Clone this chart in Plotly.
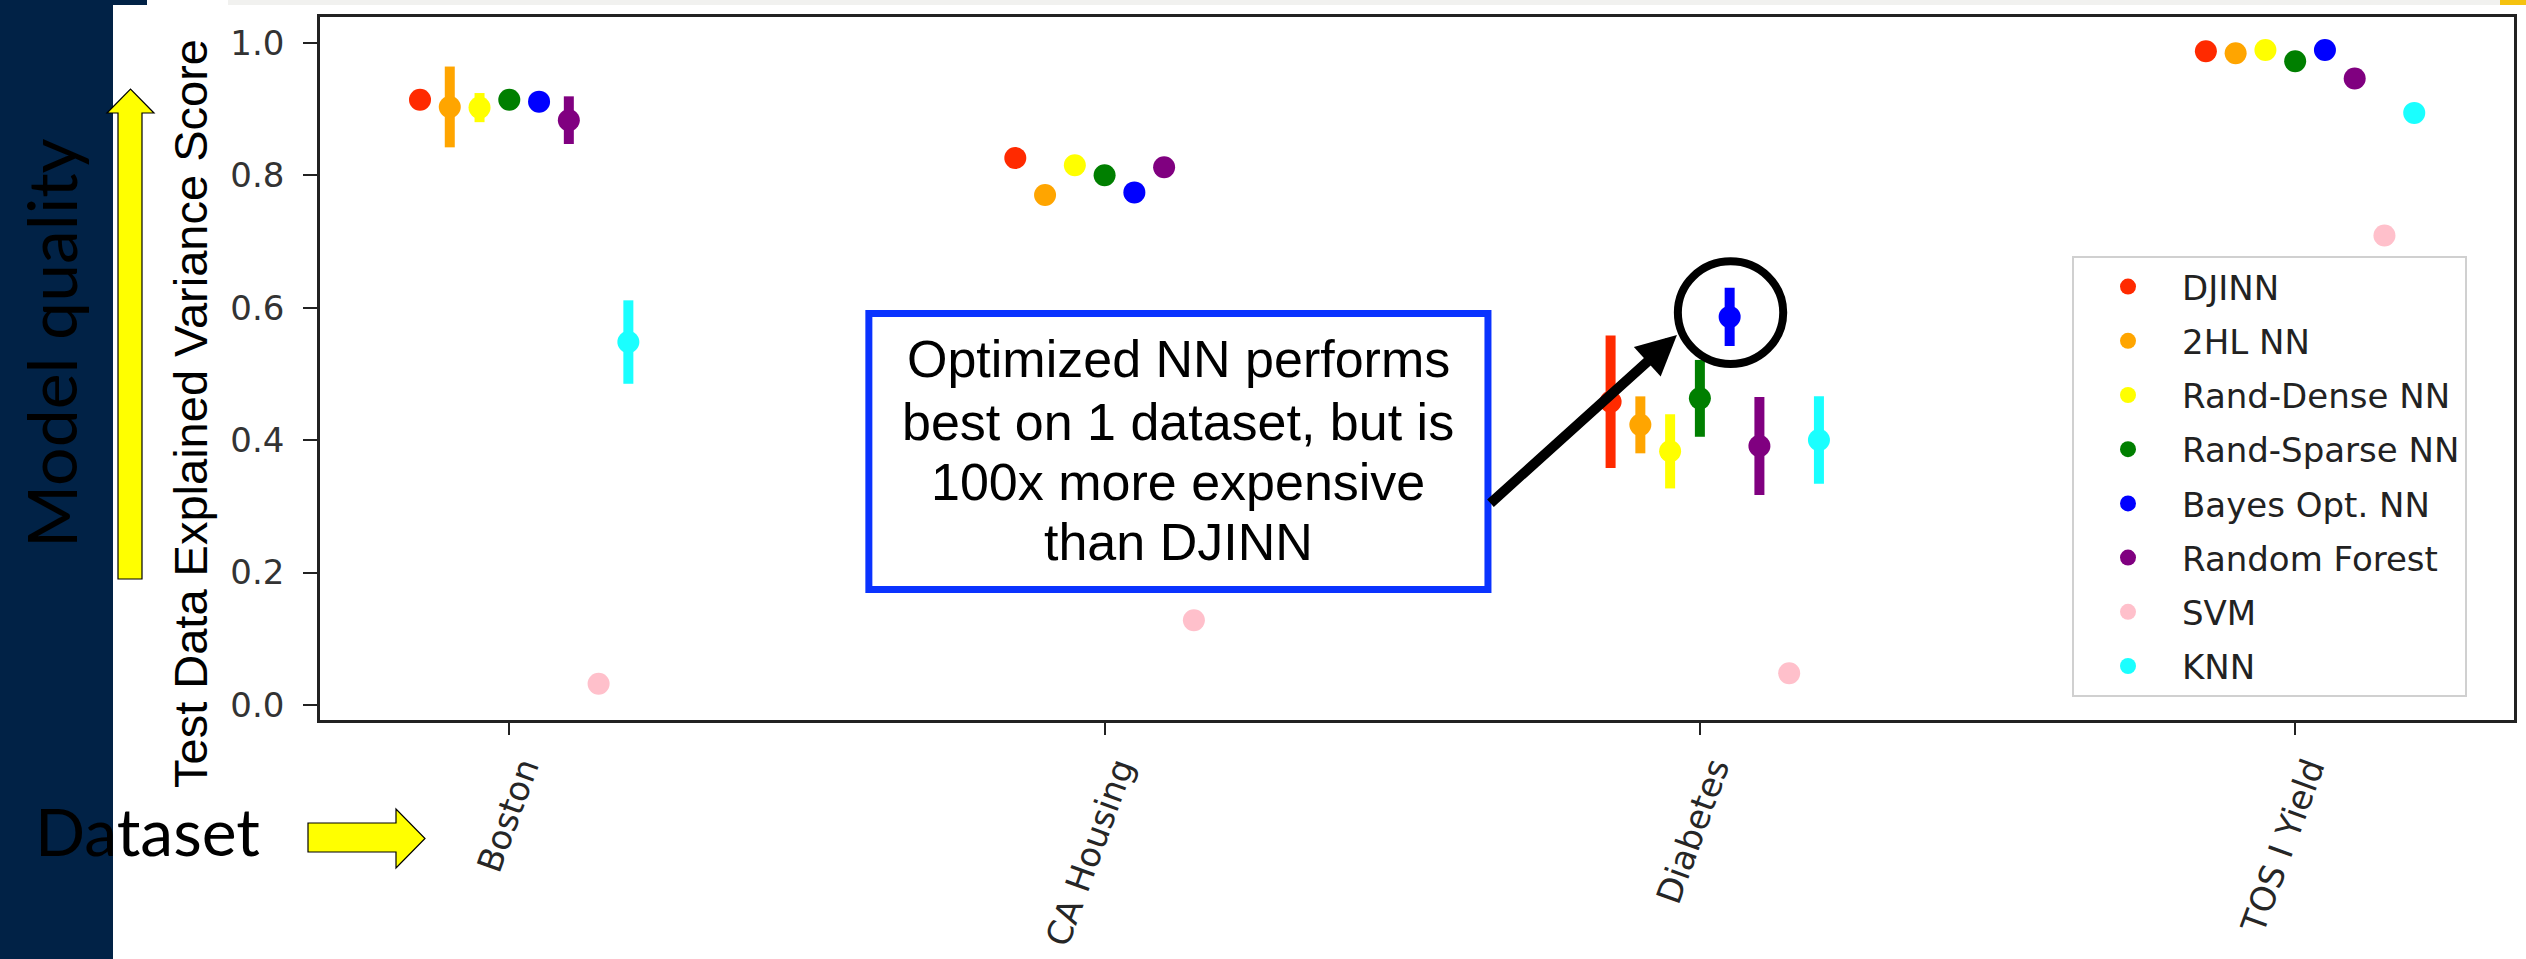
import plotly.graph_objects as go

# ---------------- data ----------------
datasets = ["Boston", "CA Housing", "Diabetes", "TOS I Yield"]
models = ["DJINN", "2HL NN", "Rand-Dense NN", "Rand-Sparse NN",
          "Bayes Opt. NN", "Random Forest", "SVM", "KNN"]

djinn_score = [0.914, 0.826, 0.458, 0.987]
djinn_err = [0.008, 0.006, 0.100, 0.004]
hl2_score = [0.903, 0.770, 0.423, 0.984]
hl2_err = [0.061, 0.006, 0.043, 0.004]
rand_dense_score = [0.902, 0.815, 0.383, 0.989]
rand_dense_err = [0.022, 0.006, 0.056, 0.004]
rand_sparse_score = [0.914, 0.800, 0.463, 0.972]
rand_sparse_err = [0.008, 0.006, 0.058, 0.004]
bayes_score = [0.911, 0.774, 0.586, 0.989]
bayes_err = [0.008, 0.006, 0.044, 0.004]
rf_score = [0.883, 0.812, 0.391, 0.946]
rf_err = [0.036, 0.006, 0.074, 0.004]
svm_score = [0.032, 0.128, 0.048, 0.709]
svm_err = [0.003, 0.003, 0.003, 0.003]
knn_score = [0.548, None, 0.400, 0.894]   # CA Housing KNN hidden behind the call-out box
knn_err = [0.063, 0.0, 0.066, 0.004]

scores = [djinn_score, hl2_score, rand_dense_score, rand_sparse_score,
          bayes_score, rf_score, svm_score, knn_score]
errors = [djinn_err, hl2_err, rand_dense_err, rand_sparse_err,
          bayes_err, rf_err, svm_err, knn_err]

y_ticks = [0.0, 0.2, 0.4, 0.6, 0.8, 1.0]

# ---------------- style ----------------
colors = ["#ff2a00", "#ffa500", "#ffff00", "#007f00",
          "#0000ff", "#800080", "#ffc0cb", "#1affff"]
dodge = [-0.15, -0.10, -0.05, 0.0, 0.05, 0.10, 0.15, 0.20]

W, H = 2526, 959
L, R, T, B = 320, 2514, 17, 720
NAVY = "#012246"


def px(p):
    return (p - L) / (R - L)


def py(p):
    return (B - p) / (B - T)


fig = go.Figure()
for m, c, d, s, e in zip(models, colors, dodge, scores, errors):
    fig.add_trace(go.Scatter(
        x=[i + d for i in range(len(datasets))],
        y=s,
        mode="markers",
        name=m,
        legendgroup=m,
        marker=dict(color=c, size=22, line=dict(width=0)),
        error_y=dict(type="data", array=e, visible=True,
                     color=c, thickness=10, width=0),
    ))

# ---------------- slide decorations ----------------
shapes = []
# navy side panel + little top tab
shapes.append(dict(type="rect", xref="paper", yref="paper",
                   x0=px(0), x1=px(113), y0=py(959), y1=py(0),
                   fillcolor=NAVY, line=dict(width=0), layer="below"))
shapes.append(dict(type="rect", xref="paper", yref="paper",
                   x0=px(0), x1=px(147), y0=py(5), y1=py(0),
                   fillcolor=NAVY, line=dict(width=0), layer="below"))
# light gray top strip and yellow corner
shapes.append(dict(type="rect", xref="paper", yref="paper",
                   x0=px(228), x1=px(2500), y0=py(5), y1=py(0),
                   fillcolor="#f1f1ef", line=dict(width=0), layer="below"))
shapes.append(dict(type="rect", xref="paper", yref="paper",
                   x0=px(2500), x1=px(2526), y0=py(5), y1=py(0),
                   fillcolor="#f5c20f", line=dict(width=0), layer="below"))


def poly(points):
    return "M " + " L ".join(f"{px(a):.5f},{py(b):.5f}" for a, b in points) + " Z"


# yellow up arrow
up_arrow = [(118, 579), (118, 113), (107, 113), (130.5, 89),
            (154, 113), (142, 113), (142, 579)]
shapes.append(dict(type="path", xref="paper", yref="paper", path=poly(up_arrow),
                   fillcolor="#ffff00", line=dict(color="#000000", width=1.2), layer="above"))
# yellow right arrow
right_arrow = [(308, 823), (396, 823), (396, 809), (425, 838.5),
               (396, 868), (396, 852), (308, 852)]
shapes.append(dict(type="path", xref="paper", yref="paper", path=poly(right_arrow),
                   fillcolor="#ffff00", line=dict(color="#000000", width=1.2), layer="above"))

# call-out box (data coordinates)
shapes.append(dict(type="rect", xref="x", yref="y",
                   x0=0.604, x1=1.644, y0=0.1745, y1=0.591,
                   fillcolor="white", line=dict(color="#0a33ff", width=7), layer="above"))
# circle around the Bayes Opt. NN point on Diabetes
shapes.append(dict(type="circle", xref="x", yref="y",
                   x0=1.963, x1=2.140, y0=0.515, y1=0.670,
                   line=dict(color="#000000", width=8), layer="above"))

annotations = []
callout_lines = ["Optimized NN performs", "best on 1 dataset, but is",
                 "100x more expensive", "than DJINN"]
callout_y = [0.5224, 0.4273, 0.3367, 0.2461]
for txt, yy in zip(callout_lines, callout_y):
    annotations.append(dict(xref="x", yref="y", x=1.124, y=yy, text=txt,
                            showarrow=False, xanchor="center", yanchor="middle",
                            font=dict(family="Liberation Sans, Arial", size=52, color="#000000")))
# black arrow
annotations.append(dict(xref="x", yref="y", axref="x", ayref="y",
                        x=1.9615, y=0.5587, ax=1.6457, ay=0.3027, text="",
                        showarrow=True, arrowhead=2, arrowsize=0.8, arrowwidth=10,
                        arrowcolor="#000000", standoff=0))
# y axis title
annotations.append(dict(xref="paper", yref="paper", x=px(190), y=py(414),
                        text="Test Data Explained Variance Score", textangle=-90,
                        showarrow=False, xanchor="center", yanchor="middle",
                        font=dict(family="Liberation Sans, Arial", size=47, color="#000000")))
# slide labels
annotations.append(dict(xref="paper", yref="paper", x=px(50), y=py(343),
                        text="Model quality", textangle=-90,
                        showarrow=False, xanchor="center", yanchor="middle",
                        font=dict(family="Lato", size=68, color="#000000")))
annotations.append(dict(xref="paper", yref="paper", x=px(147), y=py(830),
                        text="Dataset",
                        showarrow=False, xanchor="center", yanchor="middle",
                        font=dict(family="Lato", size=66, color="#000000")))

fig.update_layout(
    width=W, height=H,
    margin=dict(l=L, r=W - R, t=T, b=H - B, autoexpand=False),
    paper_bgcolor="white", plot_bgcolor="white",
    shapes=shapes, annotations=annotations,
    showlegend=True,
    legend=dict(x=px(2072), y=py(256), xanchor="left", yanchor="top",
                bgcolor="rgba(255,255,255,0.9)", bordercolor="#d0d0d0", borderwidth=2,
                font=dict(family="DejaVu Sans", size=34, color="#222222"),
                itemwidth=98, tracegroupgap=7),
    xaxis=dict(range=[-0.318, 3.3676], tickvals=list(range(len(datasets))),
               ticktext=datasets, tickangle=-70, ticklabelshift=14,
               tickfont=dict(family="DejaVu Sans", size=34, color="#262626"),
               ticks="outside", ticklen=12, tickwidth=2, tickcolor="#222222",
               showline=True, mirror=True, linecolor="#222222", linewidth=2.5,
               showgrid=False, zeroline=False),
    yaxis=dict(range=[-0.02265, 1.0388], tickvals=y_ticks, tickformat=".1f",
               tickfont=dict(family="DejaVu Sans", size=34, color="#333333"),
               ticks="outside", ticklen=14, tickwidth=2, tickcolor="#222222",
               ticklabelstandoff=12,
               showline=True, mirror=True, linecolor="#222222", linewidth=2.5,
               showgrid=False, zeroline=False),
)

fig.write_html("out.html", config={"displayModeBar": False},
               post_script="document.body.style.margin='0';document.body.style.overflow='hidden';")
